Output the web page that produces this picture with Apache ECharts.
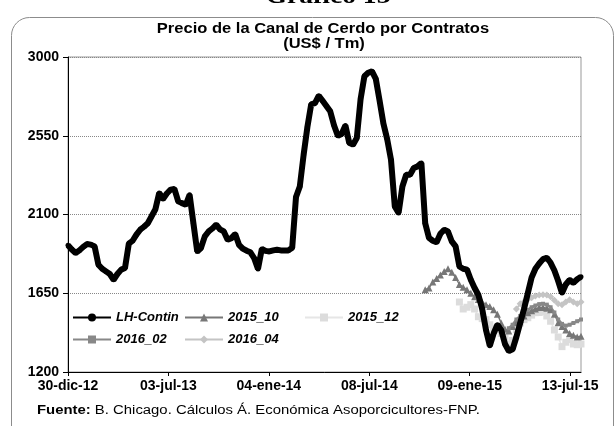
<!DOCTYPE html>
<html>
<head>
<meta charset="utf-8">
<script src="https://cdn.jsdelivr.net/npm/echarts@6/dist/echarts.min.js"></script>
<style>
html,body{margin:0;padding:0;background:#fff;}
#c{width:616px;height:426px;}
</style>
</head>
<body>
<div id="c"></div>
<script>
// x axis is measured in weeks since 30-dic-12 (weekly data)
var xTickLabels = ['30-dic-12','03-jul-13','04-ene-14','08-jul-14','09-ene-15','13-jul-15'];
var tickStepWeeks = 185 / 7; // ticks every 185 days
var yTicks = [1200, 1650, 2100, 2550, 3000];

// LH-Contin, weeks 0..135
var lhContinStart = 0;
var lhContin = [
 1924,1900,1880,1895,1915,1931,1928,1918,1813,1790,
 1775,1760,1727,1760,1785,1794,1933,1950,1985,2013,
 2030,2050,2090,2130,2223,2189,2220,2242,2246,2175,
 2165,2156,2213,2050,1889,1909,1975,2003,2020,2042,
 2015,2003,1956,1965,1989,1927,1905,1893,1884,1850,
 1789,1903,1892,1889,1895,1899,1895,1895,1895,1910,
 2200,2260,2440,2600,2730,2737,2779,2750,2720,2690,
 2610,2550,2560,2609,2510,2499,2537,2760,2890,2910,
 2918,2875,2750,2620,2530,2413,2146,2109,2260,2327,
 2327,2366,2375,2394,2050,1966,1950,1941,1990,2013,
 2003,1946,1918,1803,1790,1785,1727,1680,1640,1560,
 1440,1350,1420,1470,1440,1360,1320,1330,1400,1480,
 1560,1650,1740,1790,1820,1845,1853,1824,1780,1720,
 1651,1700,1727,1709,1730,1744
];

// 2015_10 from week 94
var c2015_10Start = 94;
var c2015_10 = [
 1670,1680,1715,1735,1755,1775,1790,1770,1740,1700,
 1685,1670,1650,1630,1615,1600,1585,1575,1556,1530,
 1480,1445,1435,1460,1482,1500,1520,1539,1550,1560,
 1568,1568,1565,1556,1530,1482,1460,1440,1420,1410,
 1400,1405
];

// 2015_12 from week 103
var c2015_12Start = 103;
var c2015_12 = [
 1600,1560,1570,1585,1560,1516,1505,1499,1470,1450,
 1440,1420,1400,1360,1380,1442,1480,1499,1510,1525,
 1539,1540,1545,1520,1490,1440,1400,1345,1370,1385,
 1360,1356,1360
];

// 2016_02 from week 116
var c2016_02Start = 116;
var c2016_02 = [
 1450,1470,1500,1520,1540,1555,1570,1580,1588,1590,
 1585,1570,1540,1500,1475,1465,1470,1480,1490,1500
];

// 2016_04 from week 118
var c2016_04Start = 118;
var c2016_04 = [
 1560,1590,1602,1615,1625,1635,1640,1642,1640,1630,
 1610,1590,1585,1600,1613,1600,1590,1600
];

function pairs(start, arr){ return arr.map(function(v,i){ return [start+i, v]; }); }

var tickVals = xTickLabels.map(function(_,i){ return i*tickStepWeeks; });
var FONT = '"Liberation Sans", Arial, sans-serif';

var chart = echarts.init(document.getElementById('c'), null, {renderer:'canvas'});

function legendAt(name, left, top){
  return {
    data:[name], left:left, top:top, itemWidth:38, itemHeight:10, padding:0,
    textStyle:{fontFamily:FONT, fontSize:13, fontWeight:'bold', fontStyle:'italic', color:'#000'}
  };
}

var option = {
  animation:false,
  backgroundColor:'#fff',
  graphic:[
    {type:'rect', z:-10, shape:{x:11.5, y:17.5, width:602, height:430, r:18}, style:{fill:'none', stroke:'#8c8c8c', lineWidth:1}},
    {type:'text', x:328, y:-14, scaleX:1.2, style:{text:'Gráfico 13', align:'center', font:'bold 23px "Liberation Serif", serif', fill:'#000'}},
    {type:'text', x:323, y:22, scaleX:1.18, style:{text:'Precio de la Canal de Cerdo por Contratos', align:'center', font:'bold 14px '+FONT, fill:'#000'}},
    {type:'text', x:324, y:37, scaleX:1.18, style:{text:'(US$ / Tm)', align:'center', font:'bold 14px '+FONT, fill:'#000'}},
    {type:'text', x:37, y:405, scaleX:1.24, style:{rich:{b:{fontFamily:FONT, fontWeight:'bold', fontSize:12, fill:'#000'}, n:{fontFamily:FONT, fontSize:12, fill:'#000'}}, text:'{b|Fuente:} {n|B. Chicago. Cálculos Á. Económica Asoporcicultores-FNP.}'}}
  ],
  grid:{left:68, right:35, top:57, bottom:54, show:true, borderColor:'#999', borderWidth:1, backgroundColor:'#fff'},
  legend:[
    legendAt('LH-Contin', 72, 311),
    legendAt('2015_10', 184, 311),
    legendAt('2015_12', 304, 311),
    legendAt('2016_02', 72, 333),
    legendAt('2016_04', 184, 333)
  ],
  xAxis:{
    type:'value', min:0, max:135,
    axisLine:{show:true, lineStyle:{color:'#000', width:1}},
    axisTick:{show:true, length:4, customValues:tickVals, lineStyle:{color:'#000'}},
    axisLabel:{customValues:tickVals, margin:7, fontFamily:FONT, fontSize:14, fontWeight:'bold', color:'#000',
      formatter:function(v){ var i=Math.round(v/tickStepWeeks); return xTickLabels[i]||''; }},
    splitLine:{show:false}
  },
  yAxis:{
    type:'value', min:1200, max:3000, interval:450,
    axisLine:{show:true, lineStyle:{color:'#000', width:1}},
    axisTick:{show:true, length:5, lineStyle:{color:'#000'}},
    axisLabel:{margin:9, fontFamily:FONT, fontSize:14, fontWeight:'bold', color:'#000',
      formatter:function(v){ return String(v); }},
    splitLine:{show:true, lineStyle:{color:'#888', type:[1,1], width:1}}
  },
  series:[
    {name:'LH-Contin', type:'line', data:pairs(lhContinStart, lhContin), z:5,
     symbol:'circle', symbolSize:5, showSymbol:true, color:'#000',
     lineStyle:{color:'#000', width:6}, itemStyle:{color:'#000'}},
    {name:'2015_10', type:'line', data:pairs(c2015_10Start, c2015_10), z:4,
     symbol:'triangle', symbolSize:7, color:'#777',
     lineStyle:{color:'#777', width:1.5}, itemStyle:{color:'#777'}},
    {name:'2015_12', type:'line', data:pairs(c2015_12Start, c2015_12), z:3,
     symbol:'rect', symbolSize:7, color:'#dcdcdc',
     lineStyle:{color:'#e6e6e6', width:1.5}, itemStyle:{color:'#dcdcdc'}},
    {name:'2016_02', type:'line', data:pairs(c2016_02Start, c2016_02), z:4,
     symbol:'rect', symbolSize:4, color:'#888',
     lineStyle:{color:'#888', width:2.5}, itemStyle:{color:'#888'}},
    {name:'2016_04', type:'line', data:pairs(c2016_04Start, c2016_04), z:3,
     symbol:'diamond', symbolSize:7, color:'#c4c4c4',
     lineStyle:{color:'#c4c4c4', width:2}, itemStyle:{color:'#c4c4c4'}}
  ]
};
chart.setOption(option);
</script>
</body>
</html>
